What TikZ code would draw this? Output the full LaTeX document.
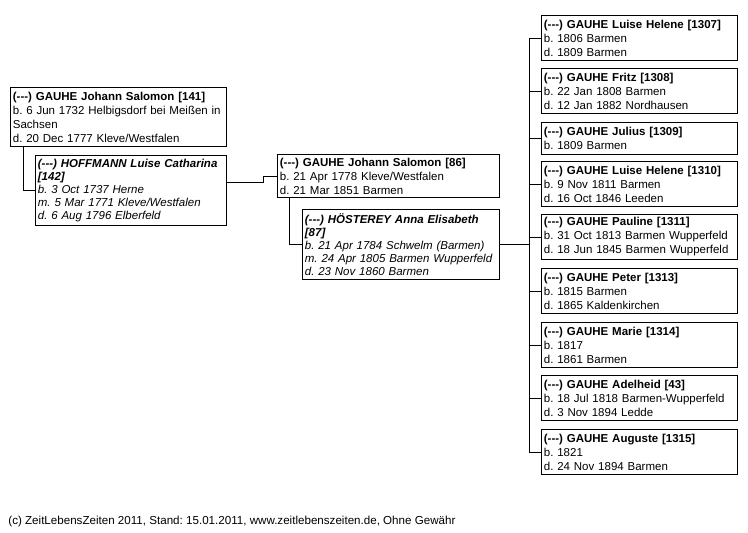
\documentclass[tikz,border=0pt]{standalone}
\usepackage{fontspec}
\setmainfont{Liberation Sans}
\frenchspacing
\begin{document}
\begin{tikzpicture}[x=1pt,y=-1pt,line width=0.8pt,
  person/.style={draw, anchor=north west, align=left, inner xsep=2.5pt, inner ysep=0pt, font=\fontsize{11.5}{14}\selectfont},
  spouse/.style={person, font=\fontsize{11.5}{12.9}\selectfont\itshape}]
\useasboundingbox (0,0) rectangle (748,533);
\node[person, text width=211pt, minimum height=59pt] (gauhe141) at (10,87) {\textbf{(-{}-{}-) GAUHE Johann Salomon [141]}\\b. 6 Jun 1732 Helbigsdorf bei Meißen in\\Sachsen\\d. 20 Dec 1777 Kleve/Westfalen};
\node[spouse, text width=186pt, minimum height=70pt] (hoffmann) at (35,155) {\textbf{(-{}-{}-) HOFFMANN Luise Catharina}\\\textbf{[142]}\\b. 3 Oct 1737 Herne\\m. 5 Mar 1771 Kleve/Westfalen\\d. 6 Aug 1796 Elberfeld};
\node[person, text width=217pt, minimum height=43pt] (gauhe86) at (277,154) {\textbf{(-{}-{}-) GAUHE Johann Salomon [86]}\\b. 21 Apr 1778 Kleve/Westfalen\\d. 21 Mar 1851 Barmen};
\node[spouse, text width=192pt, minimum height=70pt] (hoesterey) at (302,209) {\textbf{(-{}-{}-) HÖSTEREY Anna Elisabeth}\\\textbf{[87]}\\b. 21 Apr 1784 Schwelm (Barmen)\\m. 24 Apr 1805 Barmen Wupperfeld\\d. 23 Nov 1860 Barmen};
\node[person, text width=191pt, minimum height=45pt] (kid1) at (541,15) {\textbf{(-{}-{}-) GAUHE Luise Helene [1307]}\\b. 1806 Barmen\\d. 1809 Barmen};
\node[person, text width=191pt, minimum height=45pt] (kid2) at (541,68) {\textbf{(-{}-{}-) GAUHE Fritz [1308]}\\b. 22 Jan 1808 Barmen\\d. 12 Jan 1882 Nordhausen};
\node[person, text width=191pt, minimum height=32pt] (kid3) at (541,122) {\textbf{(-{}-{}-) GAUHE Julius [1309]}\\b. 1809 Barmen};
\node[person, text width=191pt, minimum height=45pt] (kid4) at (541,161) {\textbf{(-{}-{}-) GAUHE Luise Helene [1310]}\\b. 9 Nov 1811 Barmen\\d. 16 Oct 1846 Leeden};
\node[person, text width=191pt, minimum height=45pt] (kid5) at (541,214) {\textbf{(-{}-{}-) GAUHE Pauline [1311]}\\b. 31 Oct 1813 Barmen Wupperfeld\\d. 18 Jun 1845 Barmen Wupperfeld};
\node[person, text width=191pt, minimum height=45pt] (kid6) at (541,268) {\textbf{(-{}-{}-) GAUHE Peter [1313]}\\b. 1815 Barmen\\d. 1865 Kaldenkirchen};
\node[person, text width=191pt, minimum height=45pt] (kid7) at (541,322) {\textbf{(-{}-{}-) GAUHE Marie [1314]}\\b. 1817\\d. 1861 Barmen};
\node[person, text width=191pt, minimum height=45pt] (kid8) at (541,375) {\textbf{(-{}-{}-) GAUHE Adelheid [43]}\\b. 18 Jul 1818 Barmen-Wupperfeld\\d. 3 Nov 1894 Ledde};
\node[person, text width=191pt, minimum height=45pt] (kid9) at (541,429) {\textbf{(-{}-{}-) GAUHE Auguste [1315]}\\b. 1821\\d. 24 Nov 1894 Barmen};
\node[anchor=west, inner sep=0pt, font=\fontsize{11.6}{14}\selectfont] (footer) at (8,521) {(c) ZeitLebensZeiten 2011, Stand: 15.01.2011, www.zeitlebenszeiten.de, Ohne Gewähr};
\coordinate (trunk) at (529,0);
\draw ([xshift=13pt]gauhe141.south west) |- (hoffmann.west);
\draw ([yshift=8pt]hoffmann.east) -- ++(37,0) |- (gauhe86.west);
\draw ([xshift=12pt]gauhe86.south west) |- (hoesterey.west);
\draw (hoesterey.east) -- (hoesterey.east -| trunk);
\draw (kid1.west) -- (kid1.west -| trunk) -- (kid9.west -| trunk) -- (kid9.west);
\draw (kid2.west) -- (kid2.west -| trunk);
\draw (kid3.west) -- (kid3.west -| trunk);
\draw (kid4.west) -- (kid4.west -| trunk);
\draw (kid5.west) -- (kid5.west -| trunk);
\draw (kid6.west) -- (kid6.west -| trunk);
\draw (kid7.west) -- (kid7.west -| trunk);
\draw (kid8.west) -- (kid8.west -| trunk);
\end{tikzpicture}
\end{document}
